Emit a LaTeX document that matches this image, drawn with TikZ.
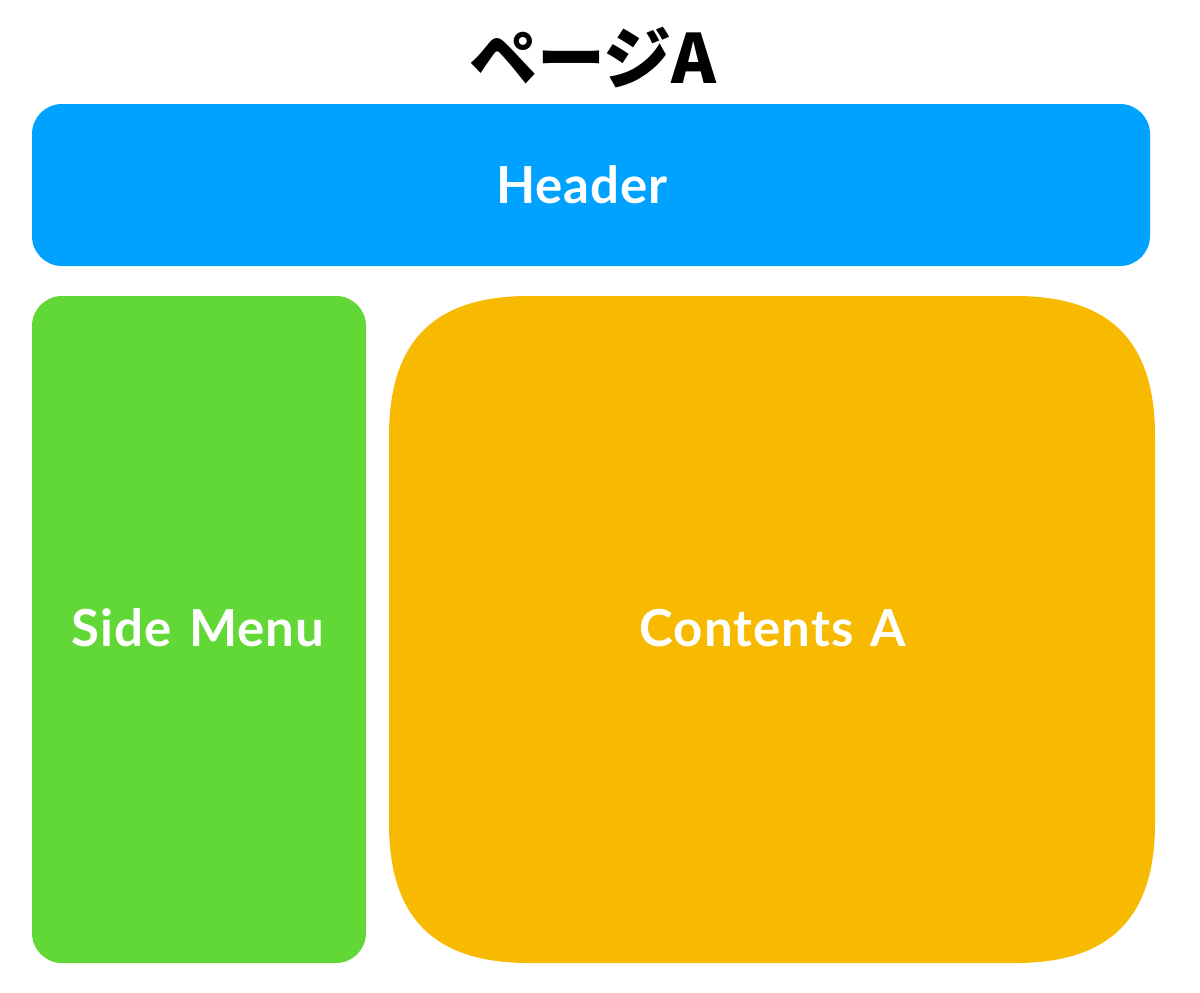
\documentclass[tikz,border=0pt]{standalone}
\usepackage{fontspec}
\setmainfont{Lato}[LetterSpace=2,WordSpace=1.3]
\newfontfamily\jpfont{Noto Sans CJK JP}
\definecolor{hblue}{HTML}{00A2FF}
\definecolor{sgreen}{HTML}{61D836}
\definecolor{cyellow}{HTML}{F8BA00}
\tikzset{
  lbl/.style={text=white, font=\fontsize{51}{60}\selectfont\bfseries, inner sep=0pt}
}
\begin{document}
\begin{tikzpicture}[x=1pt,y=-1pt]
\useasboundingbox (0,0) rectangle (1200,993);
\fill[white] (0,0) rectangle (1200,993);
\fill[hblue, rounded corners=30] (32,104) rectangle (1150,266);
\fill[sgreen, rounded corners=30] (32,296) rectangle (366,963);
% contents box with smooth (squircle-like) corners
\def\R{140}\def\D{45}
\fill[cyellow] (389,296+\R)
  .. controls (389,296+\D) and (389+\D,296) .. (389+\R,296)
  -- (1155-\R,296)
  .. controls (1155-\D,296) and (1155,296+\D) .. (1155,296+\R)
  -- (1155,963-\R)
  .. controls (1155,963-\D) and (1155-\D,963) .. (1155-\R,963)
  -- (389+\R,963)
  .. controls (389+\D,963) and (389,963-\D) .. (389,963-\R)
  -- cycle;
\node[inner sep=0pt, font=\jpfont\fontsize{68}{78}\selectfont\bfseries] (title) at (593,58) {ページA};
\node[lbl] (header) at (582,185) {Header};
\node[lbl] (side) at (198,628) {Side Menu};
\node[lbl] (contents) at (773,628) {Contents A};
\end{tikzpicture}
\end{document}
